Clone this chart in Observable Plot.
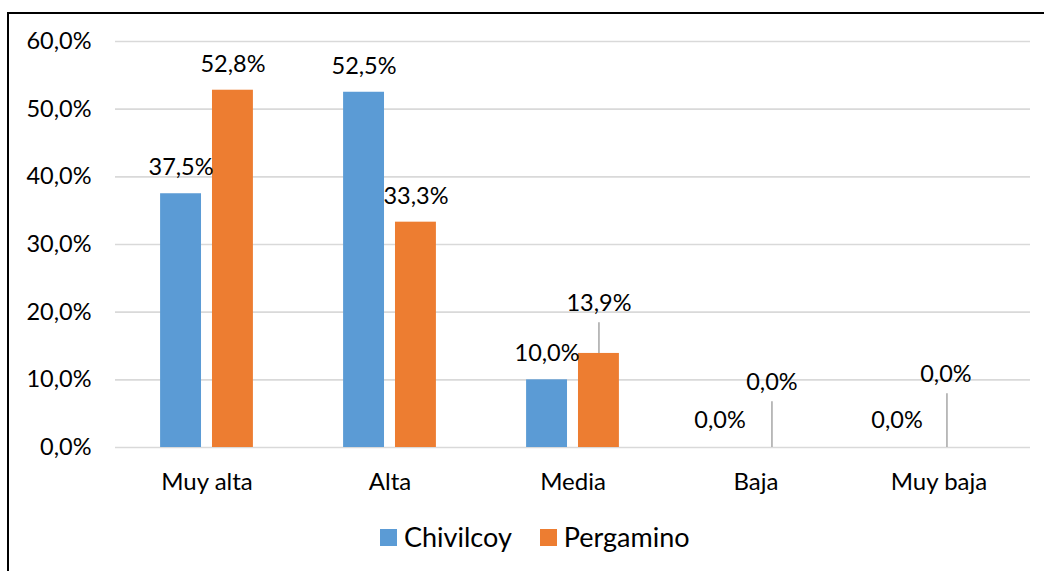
<!DOCTYPE html>
<html>
<head>
<meta charset="utf-8">
<script src="https://cdn.jsdelivr.net/npm/d3@7"></script>
<script src="https://cdn.jsdelivr.net/npm/@observablehq/plot@0.6"></script>
<style>
  html, body { margin: 0; padding: 0; background: #fff; }
  body { width: 1044px; height: 571px; overflow: hidden; position: relative; font-family: Lato, "Open Sans", sans-serif; }
  #frame { position: absolute; left: 7px; top: 12px; width: 1037px; height: 559px; border-left: 2px solid #000; border-top: 2px solid #000; box-sizing: border-box; }
  #chart { position: absolute; left: 0; top: 0; }
  #legend { position: absolute; left: 371px; top: 507px; display: flex; align-items: center; font-size: 27px; line-height: 32px; color: #000; white-space: nowrap; }
  .item { display: flex; align-items: center; margin-right: 28px; }
  .sw { width: 17px; height: 17px; margin-right: 7px; }
</style>
</head>
<body>
<div id="frame"><div id="chart"></div><div id="legend"></div></div>
<script>
const categories = ["Muy alta", "Alta", "Media", "Baja", "Muy baja"];
const series = ["Chivilcoy", "Pergamino"];
const chivilcoy = [37.5, 52.5, 10.0, 0.0, 0.0];
const pergamino = [52.8, 33.3, 13.9, 0.0, 0.0];
const yTicks = [0, 10, 20, 30, 40, 50, 60];
const yTickLabels = ["0,0%", "10,0%", "20,0%", "30,0%", "40,0%", "50,0%", "60,0%"];
const colors = ["#5B9BD5", "#ED7D31"];

const rows = [];
categories.forEach((c, i) => {
  rows.push({cat: c, series: series[0], value: chivilcoy[i]});
  rows.push({cat: c, series: series[1], value: pergamino[i]});
});
const fmt = v => v.toFixed(1).replace(".", ",") + "%";

// label placement (style), as in the original with manually moved labels
const shift = {
  "Media|Pergamino": {dx: 0, dy: -50, lead: 18.45, ldx: 0},
  "Baja|Chivilcoy": {dx: -10, dy: -27},
  "Baja|Pergamino": {dx: -10, dy: -65, lead: 6.76, ldx: -10},
  "Muy baja|Chivilcoy": {dx: -16, dy: -27},
  "Muy baja|Pergamino": {dx: -19, dy: -73, lead: 7.94, ldx: -18}
};
const key = d => d.cat + "|" + d.series;

const textMarks = rows.map(d => {
  const s = shift[key(d)] || {dx: 0, dy: -26};
  return Plot.text([d], {fx: "cat", x: "series", y: "value", text: d => fmt(d.value),
    dx: s.dx, dy: s.dy, fontSize: 23.5, fill: "#000"});
});
const leaders = rows.filter(d => shift[key(d)] && shift[key(d)].lead != null).map(d => {
  const s = shift[key(d)];
  return Plot.ruleX([d], {fx: "cat", x: "series", y1: "value", y2: () => s.lead, dx: s.ldx,
    stroke: "#a6a6a6", strokeWidth: 1.5});
});

const chart = Plot.plot({
  width: 1035,
  height: 490,
  marginLeft: 105,
  marginRight: 13,
  marginTop: 27,
  marginBottom: 57,
  style: {fontFamily: "Lato, 'Open Sans', sans-serif", fontSize: "23px", color: "#000", background: "transparent"},
  fx: {domain: categories, padding: 0, label: null},
  x: {domain: series, axis: null, paddingInner: 0.2115, paddingOuter: 0.869, round: false},
  y: {domain: [0, 60]},
  color: {domain: series, range: colors},
  marks: [
    Plot.ruleY(yTicks, {y: d => d, stroke: "#d9d9d9", strokeWidth: 1.6}),
    Plot.barY(rows, {fx: "cat", x: "series", y: "value", fill: "series"}),
    ...leaders,
    ...textMarks,
    Plot.axisY({ticks: yTicks, tickFormat: d => yTickLabels[yTicks.indexOf(d)], tickSize: 0, tickPadding: 24, fontSize: 23.5, fill: "#000", label: null}),
    Plot.axisFx({anchor: "bottom", tickSize: 0, tickPadding: 25, fontSize: 24, fill: "#000", label: null})
  ]
});
document.getElementById("chart").appendChild(chart);

const legend = document.getElementById("legend");
series.forEach((s, i) => {
  const it = document.createElement("div");
  it.className = "item";
  const sw = document.createElement("div");
  sw.className = "sw";
  sw.style.background = colors[i];
  const t = document.createElement("span");
  t.textContent = s;
  it.appendChild(sw);
  it.appendChild(t);
  legend.appendChild(it);
});
</script>
</body>
</html>
